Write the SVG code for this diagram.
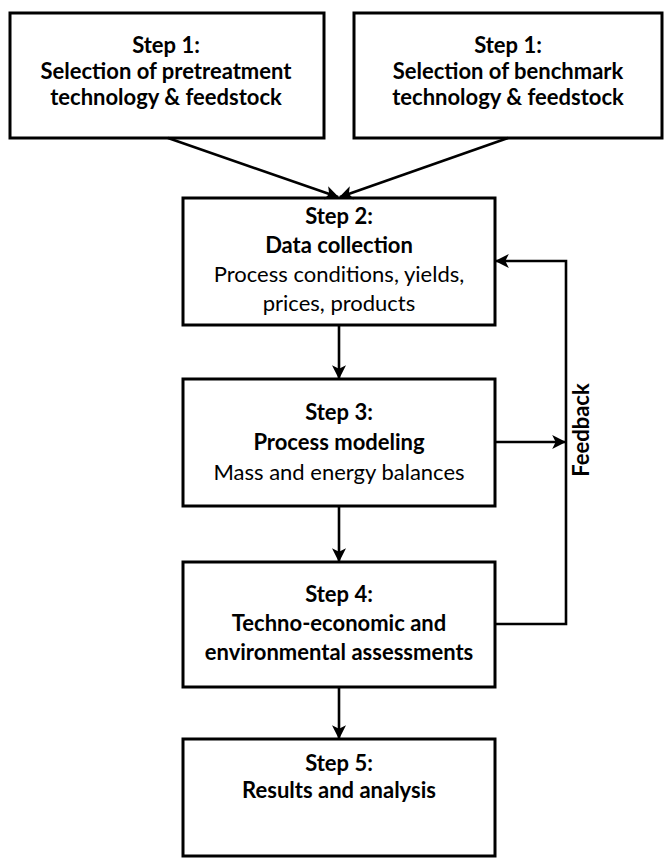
<svg xmlns="http://www.w3.org/2000/svg" width="665" height="862" viewBox="0 0 665 862">
<defs>
<style>
.box{fill:#fff;stroke:#000;stroke-width:3}
.t{font-family:Lato,"Liberation Sans",sans-serif;font-size:22px;text-anchor:middle;fill:#000}
.b{font-weight:bold}
.c{fill:none;stroke:#000;stroke-width:2.6}
</style>
<marker id="ah" viewBox="0 0 12 12" refX="11" refY="6" markerWidth="14" markerHeight="14" markerUnits="userSpaceOnUse" orient="auto">
<path d="M0,0 L12,6 L0,12 L3,6 z" fill="#000"/>
</marker>
</defs>
<rect width="665" height="862" fill="#fff"/>
<g id="step1a">
<rect class="box" x="10" y="13" width="314" height="125"/>
<text class="t b" x="166" y="53">Step 1:</text>
<text class="t b" x="166" y="79">Selection of pretreatment</text>
<text class="t b" x="166" y="105">technology &amp; feedstock</text>
</g>
<g id="step1b">
<rect class="box" x="354" y="13" width="308" height="125"/>
<text class="t b" x="508" y="53">Step 1:</text>
<text class="t b" x="508" y="79">Selection of benchmark</text>
<text class="t b" x="508" y="105">technology &amp; feedstock</text>
</g>
<g id="step2">
<rect class="box" x="183" y="198" width="312" height="127"/>
<text class="t b" x="339" y="224">Step 2:</text>
<text class="t b" x="339" y="253">Data collection</text>
<text class="t" x="339" y="282">Process conditions, yields,</text>
<text class="t" x="339" y="311">prices, products</text>
</g>
<g id="step3">
<rect class="box" x="183" y="379" width="312" height="127"/>
<text class="t b" x="339" y="420">Step 3:</text>
<text class="t b" x="339" y="450">Process modeling</text>
<text class="t" x="339" y="480">Mass and energy balances</text>
</g>
<g id="step4">
<rect class="box" x="183" y="562" width="312" height="125"/>
<text class="t b" x="339" y="602">Step 4:</text>
<text class="t b" x="339" y="631">Techno-economic and</text>
<text class="t b" x="339" y="660">environmental assessments</text>
</g>
<g id="step5">
<rect class="box" x="183" y="739" width="312" height="117"/>
<text class="t b" x="339" y="771">Step 5:</text>
<text class="t b" x="339" y="798">Results and analysis</text>
</g>
<g id="feedback-label">
<text class="t b" transform="translate(589,430) rotate(-90)">Feedback</text>
</g>
<g id="connectors">
<line class="c" x1="168" y1="138" x2="338" y2="197" marker-end="url(#ah)"/>
<line class="c" x1="508" y1="138" x2="340" y2="197" marker-end="url(#ah)"/>
<line class="c" x1="339" y1="325" x2="339" y2="378" marker-end="url(#ah)"/>
<line class="c" x1="339" y1="506" x2="339" y2="561" marker-end="url(#ah)"/>
<line class="c" x1="339" y1="687" x2="339" y2="738" marker-end="url(#ah)"/>
<polyline class="c" points="495,624 566,624 566,261 496,261" marker-end="url(#ah)"/>
<line class="c" x1="495" y1="442" x2="565" y2="442" marker-end="url(#ah)"/>
</g>
</svg>
